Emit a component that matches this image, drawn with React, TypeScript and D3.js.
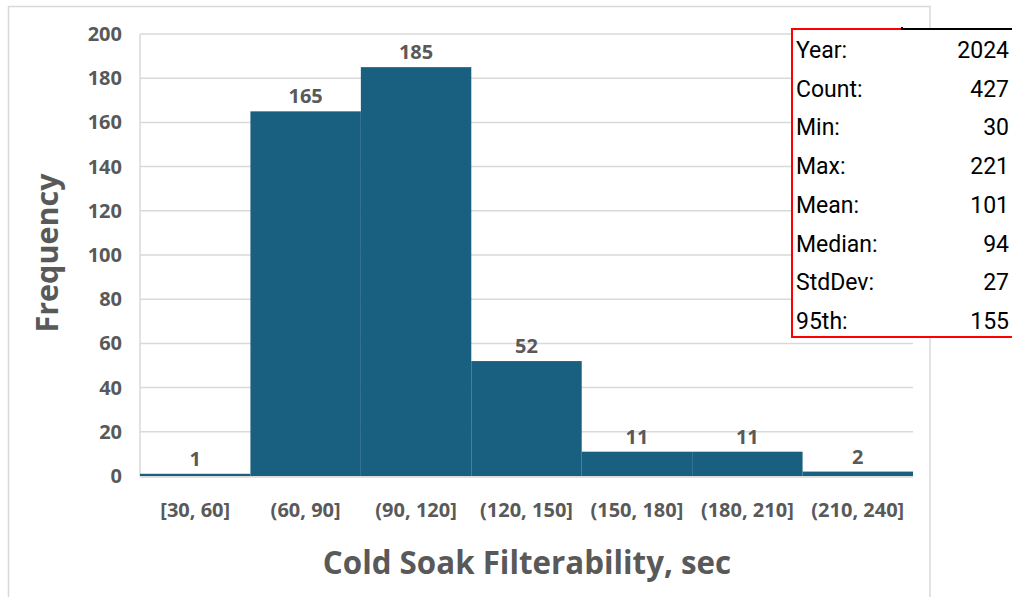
import React from "react";
import * as d3 from "d3";

// Histogram bins and their counts
const bins = ["[30, 60]", "(60, 90]", "(90, 120]", "(120, 150]", "(150, 180]", "(180, 210]", "(210, 240]"];
const counts = [1, 165, 185, 52, 11, 11, 2];
const yTicks = [0, 20, 40, 60, 80, 100, 120, 140, 160, 180, 200];

// Summary statistics panel
const statLabels = ["Year:", "Count:", "Min:", "Max:", "Mean:", "Median:", "StdDev:", "95th:"];
const statValues = ["2024", "427", "30", "221", "101", "94", "27", "155"];

const W = 1012;
const H = 597;
const plot = { left: 140, right: 913, top: 34, bottom: 476 };
const FONT = "'Open Sans', Roboto, sans-serif";
const STAT_FONT = "Roboto, 'Liberation Sans', sans-serif";
const GRAY_TEXT = "#595959";
const GRID = "#d9d9d9";
const BAR = "#185f80";
const LABEL_SIZE = 20;

export default function App() {
  const x = d3.scaleBand<string>().domain(bins).range([plot.left, plot.right]).padding(0);
  const y = d3.scaleLinear().domain([0, 200]).range([plot.bottom, plot.top]);

  const box = { x: 792, y: 29, right: 1014, bottom: 337 };
  const rowY = d3.scaleLinear().domain([0, 7]).range([58, 329]);

  return (
    <svg
      width={W}
      height={H}
      style={{ position: "absolute", left: 0, top: 0, background: "#fff" }}
      fontFamily={FONT}
    >
      {/* chart frame */}
      <rect x={8.5} y={6.5} width={921.5} height={620} fill="#fff" stroke={GRID} strokeWidth={1.5} />

      {/* gridlines */}
      {yTicks.map((t) => (
        <line key={t} x1={plot.left} x2={plot.right} y1={y(t)} y2={y(t)} stroke={GRID} strokeWidth={1.5} />
      ))}
      <line x1={plot.left} x2={plot.left} y1={plot.top} y2={plot.bottom} stroke={GRID} strokeWidth={1.5} />

      {/* bars */}
      {bins.map((b, i) => (
        <rect
          key={b}
          x={x(b)!}
          y={y(counts[i])}
          width={x.bandwidth()}
          height={y(0) - y(counts[i])}
          fill={BAR}
        />
      ))}
      <line x1={plot.left} x2={plot.right} y1={y(0) + 1} y2={y(0) + 1} stroke={GRID} strokeWidth={1.5} />

      {/* data labels */}
      {bins.map((b, i) => (
        <text
          key={b}
          x={x(b)! + x.bandwidth() / 2}
          y={y(counts[i]) - 8}
          textAnchor="middle"
          fontSize={LABEL_SIZE}
          fontWeight={700}
          fill={GRAY_TEXT}
        >
          {counts[i]}
        </text>
      ))}

      {/* y tick labels */}
      {yTicks.map((t) => (
        <text
          key={t}
          x={122}
          y={y(t) + 7}
          textAnchor="end"
          fontSize={LABEL_SIZE}
          fontWeight={700}
          fill={GRAY_TEXT}
        >
          {t}
        </text>
      ))}

      {/* x category labels */}
      {bins.map((b) => (
        <text
          key={b}
          x={x(b)! + x.bandwidth() / 2}
          y={517}
          textAnchor="middle"
          fontSize={LABEL_SIZE}
          fontWeight={700}
          fill={GRAY_TEXT}
        >
          {b}
        </text>
      ))}

      {/* axis titles */}
      <text
        transform="translate(58,253) rotate(-90)"
        textAnchor="middle"
        fontSize={30.5}
        fontWeight={700}
        fill={GRAY_TEXT}
      >
        Frequency
      </text>
      <text x={527} y={574} textAnchor="middle" fontSize={31.3} fontWeight={700} fill={GRAY_TEXT}>
        Cold Soak Filterability, sec
      </text>

      {/* statistics panel */}
      <rect
        x={box.x}
        y={box.y}
        width={box.right - box.x}
        height={box.bottom - box.y}
        fill="#fff"
        stroke="#ff0000"
        strokeWidth={2}
      />
      <line x1={902} x2={1014} y1={box.y} y2={box.y} stroke="#000" strokeWidth={2} />
      <rect x={901} y={27} width={2} height={3} fill="#000" />
      {statLabels.map((l, i) => (
        <g key={l} fontFamily={STAT_FONT}>
          <text x={796} y={rowY(i)} fontSize={23} fill="#000">
            {l}
          </text>
          <text x={1009} y={rowY(i)} textAnchor="end" fontSize={23} fill="#000">
            {statValues[i]}
          </text>
        </g>
      ))}
    </svg>
  );
}
